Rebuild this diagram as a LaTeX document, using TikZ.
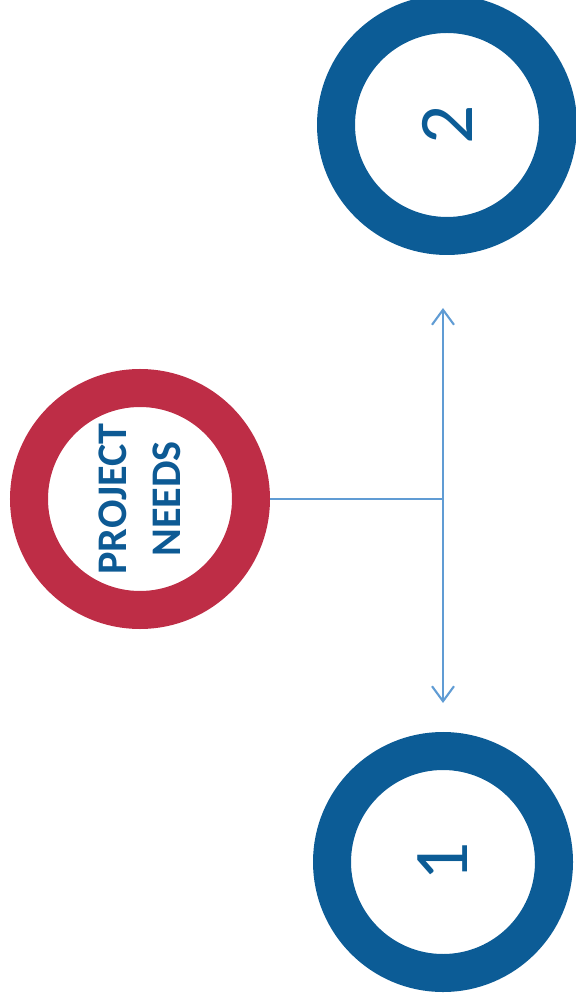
\documentclass[tikz,border=0pt]{standalone}
\usepackage{fontspec}
\setmainfont{Carlito}
\usetikzlibrary{arrows.meta}
\definecolor{ringred}{RGB}{190,45,70}
\definecolor{ringblue}{RGB}{12,92,150}
\definecolor{textblue}{RGB}{13,90,148}
\definecolor{linkblue}{RGB}{96,156,212}
\begin{document}
\begin{tikzpicture}[
  ring/.style={circle,draw=#1,line width=0.38cm,minimum size=2.22cm,inner sep=0pt},
  link/.style={draw=linkblue,line width=0.6pt}]
\useasboundingbox (0,0) rectangle (5.75,-10);
\node[ring=ringred,text=textblue,font=\fontsize{12}{15.4}\selectfont\bfseries,
  align=center,rotate=90] (needs) at (1.40,-4.99) {PROJECT\\NEEDS};
\node[ring=ringblue,text=ringblue,font=\fontsize{22}{26}\selectfont,rotate=90] (two) at (4.47,-1.25) {2};
\node[ring=ringblue,text=ringblue,font=\fontsize{22}{26}\selectfont,rotate=90] (one) at (4.43,-8.62) {1};
\coordinate (mid) at (4.43,-4.99);
\coordinate (up) at (4.43,-3.08);
\coordinate (down) at (4.43,-7.03);
% rotated node: its south anchor faces right
\draw[link] (needs.south) -- (mid);
\draw[link,{Straight Barb[length=1.5mm,width=2.2mm]}-{Straight Barb[length=1.5mm,width=2.2mm]}] (up) -- (down);
\end{tikzpicture}
\end{document}
